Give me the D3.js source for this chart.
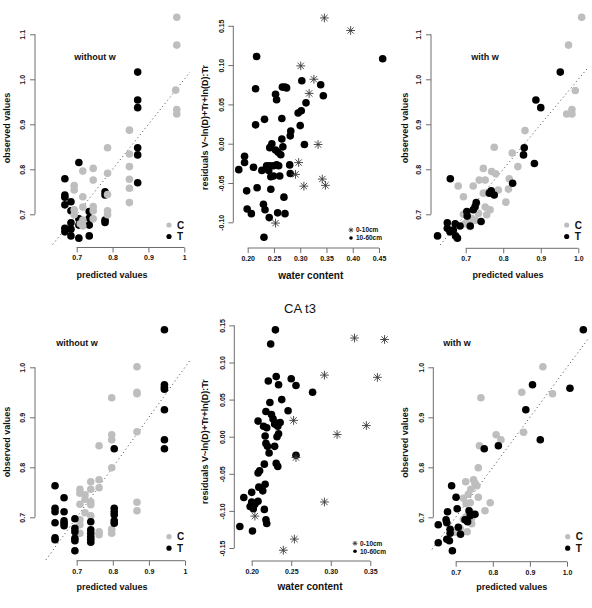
<!DOCTYPE html>
<html><head><meta charset="utf-8">
<script src="https://cdn.jsdelivr.net/npm/d3@7"></script>
<style>body{margin:0;background:#fff}svg{display:block;font-family:"Liberation Sans",Arial,sans-serif}</style>
</head><body><svg id="c" width="592" height="608"></svg>
<script>
// ---------- DATA ----------
const predTicksA = [0.7, 0.8, 0.9, 1.0];
const predLabelsA = ["0.7", "0.8", "0.9", "1"];
const predLabelsB = ["0.7", "0.8", "0.9", "1.0"];
const obsTicksTop = [0.7, 0.8, 0.9, 1.0, 1.1];
const obsLabelsTop = ["0.7", "0.8", "0.9", "1.0", "1.1"];
const obsTicksBot = [0.7, 0.8, 0.9, 1.0];
const obsLabelsBot = ["0.7", "0.8", "0.9", "1.0"];
const wcTicksTop = [0.20, 0.25, 0.30, 0.35, 0.40, 0.45];
const wcLabelsTop = ["0.20", "0.25", "0.30", "0.35", "0.40", "0.45"];
const wcTicksBot = [0.20, 0.25, 0.30, 0.35];
const wcLabelsBot = ["0.20", "0.25", "0.30", "0.35"];
const resTicksTop = [-0.10, -0.05, 0.00, 0.05, 0.10, 0.15];
const resLabelsTop = ["-0.10", "-0.05", "0.00", "0.05", "0.10", "0.15"];
const resTicksBot = [-0.15, -0.10, -0.05, 0.00, 0.05, 0.10, 0.15];
const resLabelsBot = ["-0.15", "-0.10", "-0.05", "0.00", "0.05", "0.10", "0.15"];
const groupLegend = ["C", "T"];
const depthLegend = ["0-10cm", "10-60cm"];
const bottomTitle = "CA t3";

// Panel 1: t2 without w  [predicted, observed]
const p1C = [[0.979,1.138],[0.979,1.076],[0.976,0.976],[0.979,0.933],[0.979,0.923],[0.847,0.887],[0.786,0.848],
 [0.847,0.834],[0.847,0.806],[0.847,0.778],[0.847,0.758],[0.847,0.726],[0.786,0.791],[0.746,0.802],[0.717,0.796],
 [0.746,0.776],[0.693,0.764],[0.693,0.754],[0.717,0.739],[0.786,0.744],[0.786,0.708],[0.786,0.699],[0.746,0.717],
 [0.746,0.708],[0.717,0.716],[0.746,0.690],[0.693,0.710],[0.693,0.699],[0.717,0.687],[0.717,0.674],[0.710,0.679]];
const p1T = [[0.870,1.016],[0.870,0.954],[0.870,0.937],[0.870,0.848],[0.870,0.832],[0.870,0.770],[0.706,0.815],
 [0.667,0.779],[0.667,0.743],[0.667,0.738],[0.667,0.721],[0.684,0.728],[0.684,0.708],[0.667,0.669],[0.667,0.661],
 [0.684,0.681],[0.684,0.667],[0.684,0.652],[0.706,0.690],[0.706,0.676],[0.706,0.647],[0.735,0.706],[0.735,0.691],
 [0.735,0.676],[0.735,0.652],[0.779,0.750],[0.779,0.743],[0.779,0.687],[0.779,0.682]];
// Panel 2: t2 residuals vs water content
const p2Star = [[0.346,0.160],[0.396,0.144],[0.301,0.099],[0.326,0.082],[0.317,0.064],[0.334,-0.001],[0.297,-0.024],
 [0.291,-0.039],[0.342,-0.045],[0.307,-0.054],[0.348,-0.053],[0.253,-0.101]];
const p2Dot = [[0.457,0.108],[0.217,0.111],[0.215,0.070],[0.253,0.063],[0.255,0.056],[0.266,0.072],[0.271,0.072],
 [0.274,0.071],[0.303,0.080],[0.339,0.075],[0.344,0.061],[0.311,0.052],[0.302,0.042],[0.296,0.039],[0.232,0.031],
 [0.265,0.032],[0.215,0.024],[0.300,0.023],[0.282,0.016],[0.281,0.010],[0.265,0.006],[0.246,0.000],[0.308,-0.001],
 [0.242,-0.005],[0.267,-0.004],[0.253,-0.008],[0.258,-0.011],[0.263,-0.014],[0.194,-0.016],[0.194,-0.024],
 [0.183,-0.033],[0.211,-0.030],[0.227,-0.034],[0.236,-0.028],[0.242,-0.028],[0.249,-0.028],[0.255,-0.027],
 [0.259,-0.028],[0.240,-0.034],[0.244,-0.042],[0.249,-0.041],[0.261,-0.041],[0.280,-0.027],[0.281,-0.038],
 [0.198,-0.060],[0.218,-0.056],[0.244,-0.058],[0.269,-0.068],[0.230,-0.077],[0.199,-0.083],[0.233,-0.084],
 [0.207,-0.089],[0.257,-0.088],[0.271,-0.089],[0.241,-0.094],[0.231,-0.119]];
// Panel 3: t2 with w
const p3C = [[1.009,1.138],[0.974,1.076],[0.992,0.975],[0.983,0.933],[0.969,0.923],[0.983,0.923],[0.858,0.886],
 [0.776,0.849],[0.824,0.836],[0.839,0.806],[0.747,0.802],[0.769,0.795],[0.780,0.790],[0.816,0.779],[0.736,0.776],
 [0.752,0.776],[0.680,0.763],[0.720,0.763],[0.694,0.739],[0.787,0.754],[0.814,0.756],[0.747,0.747],[0.807,0.727],
 [0.752,0.716],[0.765,0.710],[0.756,0.699],[0.729,0.724],[0.722,0.711],[0.734,0.702],[0.716,0.691],[0.705,0.684],
 [0.698,0.679],[0.725,0.687],[0.694,0.700],[0.712,0.673]];
const p3T = [[0.952,1.016],[0.887,0.954],[0.900,0.937],[0.856,0.848],[0.854,0.832],[0.883,0.813],[0.825,0.769],
 [0.659,0.779],[0.768,0.752],[0.776,0.743],[0.763,0.747],[0.728,0.726],[0.725,0.717],[0.703,0.706],[0.704,0.696],
 [0.741,0.684],[0.651,0.681],[0.651,0.669],[0.672,0.679],[0.667,0.665],[0.658,0.661],[0.685,0.674],[0.673,0.652],
 [0.678,0.647],[0.625,0.652],[0.712,0.674],[0.720,0.710]];
// Panel 4: t3 without w
const p4C = [[0.867,1.001],[0.867,0.950],[0.867,0.947],[0.797,0.939],[0.797,0.865],[0.797,0.855],[0.867,0.871],
 [0.762,0.843],[0.797,0.799],[0.762,0.775],[0.762,0.759],[0.739,0.771],[0.739,0.756],[0.709,0.756],[0.709,0.748],
 [0.723,0.745],[0.723,0.736],[0.739,0.731],[0.709,0.726],[0.739,0.725],[0.723,0.709],[0.739,0.703],[0.709,0.695],
 [0.709,0.685],[0.762,0.671],[0.762,0.665],[0.797,0.676],[0.797,0.668],[0.867,0.730],[0.867,0.713],[0.709,0.668]];
const p4T = [[0.943,1.075],[0.943,0.965],[0.943,0.960],[0.943,0.956],[0.943,0.915],[0.943,0.855],[0.943,0.837],
 [0.804,0.837],[0.804,0.718],[0.804,0.711],[0.804,0.705],[0.804,0.693],[0.804,0.688],[0.640,0.763],[0.640,0.718],
 [0.640,0.711],[0.640,0.689],[0.640,0.659],[0.640,0.655],[0.665,0.739],[0.665,0.711],[0.665,0.693],[0.665,0.688],
 [0.665,0.683],[0.695,0.697],[0.695,0.678],[0.695,0.671],[0.695,0.658],[0.695,0.653],[0.695,0.633],[0.739,0.691],
 [0.739,0.675],[0.739,0.668],[0.739,0.661],[0.739,0.656],[0.739,0.650]];
// Panel 5: t3 residuals vs water content
const p5Star = [[0.330,0.133],[0.368,0.131],[0.292,0.083],[0.359,0.080],[0.253,0.022],[0.345,0.015],[0.308,0.003],
 [0.256,-0.028],[0.292,-0.088],[0.204,-0.107],[0.254,-0.138],[0.240,-0.153]];
const p5Dot = [[0.230,0.144],[0.224,0.125],[0.221,0.075],[0.231,0.081],[0.234,0.070],[0.250,0.078],[0.256,0.069],
 [0.277,0.060],[0.238,0.050],[0.223,0.046],[0.246,0.035],[0.218,0.034],[0.225,0.030],[0.208,0.021],[0.215,0.014],
 [0.219,0.012],[0.227,0.024],[0.229,0.017],[0.232,0.018],[0.236,0.019],[0.233,0.014],[0.234,0.004],[0.232,0.000],
 [0.217,0.001],[0.218,-0.009],[0.220,-0.013],[0.229,-0.013],[0.222,-0.022],[0.256,-0.025],[0.231,-0.036],
 [0.233,-0.040],[0.216,-0.037],[0.210,-0.046],[0.208,-0.049],[0.217,-0.064],[0.209,-0.068],[0.214,-0.073],
 [0.200,-0.075],[0.190,-0.082],[0.200,-0.088],[0.208,-0.087],[0.204,-0.091],[0.198,-0.094],[0.202,-0.097],
 [0.216,-0.098],[0.218,-0.112],[0.219,-0.117],[0.185,-0.121],[0.201,-0.127]];
// Panel 6: t3 with w
const p6C = [[0.935,1.001],[0.878,0.950],[0.961,0.947],[0.768,0.939],[0.809,0.865],[0.822,0.855],[0.883,0.870],
 [0.764,0.843],[0.761,0.799],[0.727,0.771],[0.748,0.775],[0.752,0.768],[0.757,0.763],[0.741,0.756],[0.734,0.746],
 [0.721,0.738],[0.761,0.740],[0.739,0.729],[0.728,0.727],[0.793,0.729],[0.779,0.713],[0.741,0.709],[0.728,0.701],
 [0.721,0.696],[0.743,0.687],[0.712,0.678],[0.731,0.671],[0.698,0.670],[0.743,0.698]];
const p6T = [[1.044,1.075],[0.907,0.965],[1.008,0.958],[0.889,0.915],[0.928,0.855],[0.815,0.843],[0.777,0.837],
 [0.689,0.763],[0.701,0.740],[0.704,0.717],[0.678,0.711],[0.674,0.695],[0.676,0.689],[0.653,0.685],[0.685,0.676],
 [0.707,0.680],[0.653,0.649],[0.676,0.656],[0.683,0.653],[0.691,0.633],[0.713,0.666],[0.736,0.713],[0.739,0.703],
 [0.752,0.706],[0.725,0.695],[0.732,0.691],[0.685,0.668]];

// ---------- DRAWING ----------
const svg = d3.select("#c");
const GRAY = "#bebebe", AX = "#6e6e6e";

function axes(g, x, y, xt, xl, yt, yl, ax0, ay0) {
  const gx = g.append("g").attr("transform", `translate(0,${ay0})`)
    .call(d3.axisBottom(x).tickValues(xt).tickFormat((d,i)=>xl[i]).tickSize(5).tickPadding(3));
  const gy = g.append("g").attr("transform", `translate(${ax0},0)`)
    .call(d3.axisLeft(y).tickValues(yt).tickFormat((d,i)=>yl[i]).tickSize(5).tickPadding(3));
  [gx, gy].forEach(a => {
    a.select(".domain").attr("stroke", AX).attr("d", null);
    a.selectAll(".tick line").attr("stroke", AX);
    a.selectAll("text").attr("font-size", 7).attr("font-weight", "bold").attr("fill", "#111")
      .attr("font-family", "Liberation Sans, Arial, sans-serif");
  });
  gx.select(".domain").remove();
  gy.select(".domain").remove();
  gx.append("line").attr("x1", x(xt[0])).attr("x2", x(xt[xt.length-1])).attr("stroke", AX);
  gy.append("line").attr("y1", y(yt[0])).attr("y2", y(yt[yt.length-1])).attr("stroke", AX);
  gy.selectAll(".tick text").attr("transform", "rotate(-90)").attr("text-anchor", "middle")
    .attr("x", 0).attr("y", -12).attr("dy", "0.32em");
}
function label(g, txt, cx, cy, rot, size, weight) {
  g.append("text").attr("transform", `translate(${cx},${cy}) rotate(${rot||0})`)
    .attr("text-anchor", "middle").attr("dy", "0.35em").attr("font-size", size || 9)
    .attr("font-weight", weight || "bold").attr("fill", "#111").text(txt);
}
function star(g, cx, cy, r) {
  const d = r * 0.72;
  const p = `M${cx-r},${cy}L${cx+r},${cy}M${cx},${cy-r}L${cx},${cy+r}M${cx-d},${cy-d}L${cx+d},${cy+d}M${cx-d},${cy+d}L${cx+d},${cy-d}`;
  g.append("path").attr("d", p).attr("stroke", "#3a3a3a").attr("stroke-width", 0.9).attr("fill", "none");
}

function predPanel(o) {
  const g = svg.append("g");
  const x = d3.scaleLinear().domain([0.7, 1.0]).range(o.xr);
  const y = d3.scaleLinear().domain([0.7, 1.0]).range(o.yr);
  g.append("line").attr("x1", x(o.ab[0])).attr("y1", y(o.ab[0])).attr("x2", x(o.ab[1])).attr("y2", y(o.ab[1]))
    .attr("stroke", "#444").attr("stroke-width", 1).attr("stroke-dasharray", "1,3");
  axes(g, x, y, predTicksA, o.xl, o.yt, o.yl, o.ax, o.ay);
  const order = o.grayFirst ? [[o.C, GRAY], [o.T, "#000"]] : [[o.T, "#000"], [o.C, GRAY]];
  order.forEach(([arr, col]) => g.append("g").selectAll("circle").data(arr).join("circle")
    .attr("cx", d => x(d[0])).attr("cy", d => y(d[1])).attr("r", 3.8).attr("fill", col));
  label(g, o.title, o.tpos[0], o.tpos[1]);
  label(g, "predicted values", o.xlab[0], o.xlab[1]);
  label(g, "observed values", o.ylab[0], o.ylab[1], -90);
  [GRAY, "#000"].forEach((col, i) => {
    g.append("circle").attr("cx", o.leg[0]).attr("cy", o.leg[1] + i * 11.5).attr("r", 2.6).attr("fill", col);
    g.append("text").attr("x", o.leg[0] + 8).attr("y", o.leg[1] + i * 11.5).attr("dy", "0.36em")
      .attr("font-size", 10).attr("font-weight", "bold").attr("fill", "#111").text(groupLegend[i]);
  });
}
function resPanel(o) {
  const g = svg.append("g");
  const x = d3.scaleLinear().domain([0.2, o.xt[o.xt.length-1]]).range(o.xr);
  const y = d3.scaleLinear().domain([0, 0.15]).range(o.yr);
  axes(g, x, y, o.xt, o.xl, o.yt, o.yl, o.ax, o.ay);
  g.append("g").selectAll("circle").data(o.D).join("circle")
    .attr("cx", d => x(d[0])).attr("cy", d => y(d[1])).attr("r", 3.8).attr("fill", "#000");
  o.S.forEach(d => star(g, x(d[0]), y(d[1]), 4.4));
  label(g, "water content", o.xlab[0], o.xlab[1], 0, 10);
  label(g, "residuals V~ln(D)+Tr+ln(D):Tr", o.ylab[0], o.ylab[1], -90, 9);
  star(g, o.leg[0], o.leg[1], 2.4);
  g.append("circle").attr("cx", o.leg[0]).attr("cy", o.leg[1] + 8).attr("r", 1.8).attr("fill", "#000");
  depthLegend.forEach((t, i) => g.append("text").attr("x", o.leg[0] + 5).attr("y", o.leg[1] + i * 8)
    .attr("dy", "0.35em").attr("font-size", 6.5).attr("font-weight", "bold").attr("fill", "#111").text(t));
}

predPanel({C: p1C, T: p1T, xr: [76.7, 184.3], yr: [214.3, 79.3], ab: [0.633, 1.016], ax: 35, ay: 247.5,
  xl: predLabelsA, yt: obsTicksTop, yl: obsLabelsTop, title: "without w", tpos: [95, 57],
  xlab: [112, 275], ylab: [7, 128], leg: [169, 225], grayFirst: false});
predPanel({C: p3C, T: p3T, xr: [465.7, 578.3], yr: [214.3, 79.3], ab: [0.632, 1.025], ax: 431, ay: 248.3,
  xl: predLabelsB, yt: obsTicksTop, yl: obsLabelsTop, title: "with w", tpos: [485, 57],
  xlab: [508, 275], ylab: [405, 128], leg: [566.7, 225], grayFirst: true});
predPanel({C: p4C, T: p4T, xr: [76.7, 185], yr: [517.3, 367.3], ab: [0.615, 1.016], ax: 35, ay: 560.7,
  xl: predLabelsA, yt: obsTicksBot, yl: obsLabelsBot, title: "without w", tpos: [77, 343],
  xlab: [112, 586.7], ylab: [7, 442], leg: [169, 536.7], grayFirst: true});
predPanel({C: p6C, T: p6T, xr: [455.7, 567], yr: [517.3, 367.3], ab: [0.636, 1.056], ax: 433.3, ay: 561.7,
  xl: predLabelsB, yt: obsTicksBot, yl: obsLabelsBot, title: "with w", tpos: [457, 343.3],
  xlab: [511.7, 586.7], ylab: [405, 442.5], leg: [567.7, 536.7], grayFirst: true});

resPanel({S: p2Star, D: p2Dot, xt: wcTicksTop, xl: wcLabelsTop, yt: resTicksTop, yl: resLabelsTop,
  xr: [247.7, 379], yr: [143.7, 25.8], ax: 233.3, ay: 248, xlab: [310.7, 275], ylab: [205, 127.5], leg: [351, 230]});
resPanel({S: p5Star, D: p5Dot, xt: wcTicksBot, xl: wcLabelsBot, yt: resTicksBot, yl: resLabelsBot,
  xr: [251.7, 370.3], yr: [436.7, 325.4], ax: 234.3, ay: 561, xlab: [310, 586.7], ylab: [205, 441.7], leg: [355, 543.3]});

svg.append("text").attr("x", 300).attr("y", 308).attr("dy", "0.35em").attr("text-anchor", "middle")
  .attr("font-size", 13).attr("fill", "#111").text(bottomTitle);
</script></body></html>
